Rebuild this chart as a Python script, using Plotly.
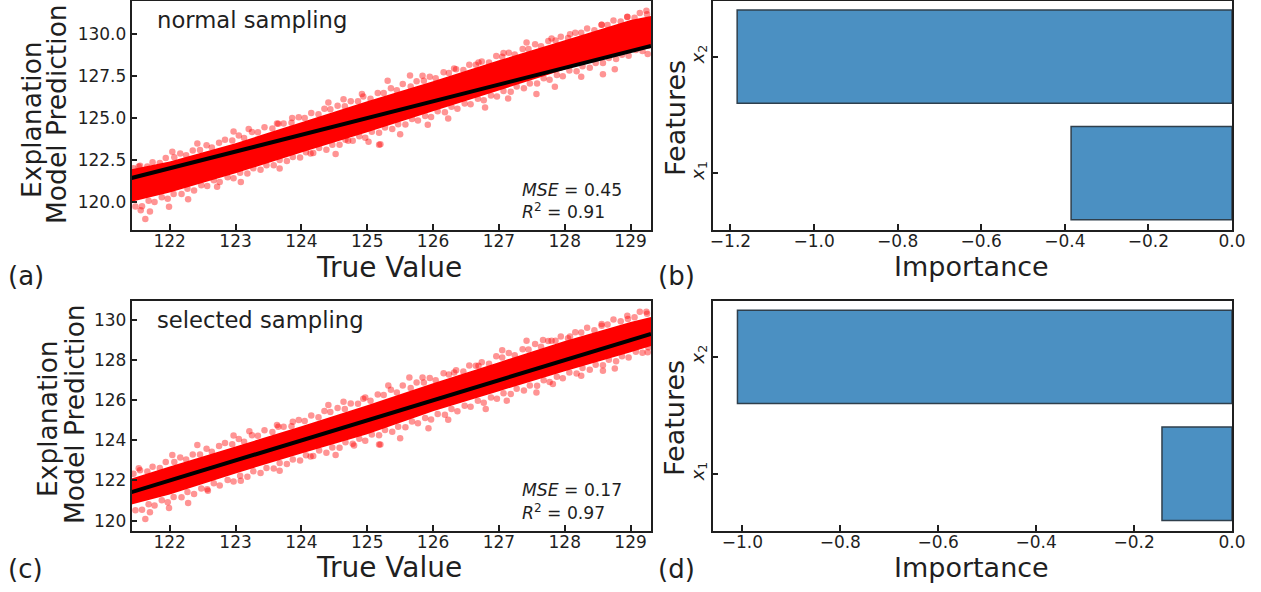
import plotly.graph_objects as go

W, H = 1261, 592
RED_FRINGE = "rgba(255,0,0,0.42)"
INK = "#1f1f1f"
BAR = "#4b90c2"
BAR_EDGE = "#2f3f4c"
FONT = "DejaVu Sans"

# Regression line endpoints (y = x) and axis limits
true_limits = [121.42, 129.31]
limits_a = [118.33, 132.0]
limits_c = [119.5, 130.96]
limits_b = [-1.243, 0.0]
limits_d = [-1.061, 0.0]

# Dense band outline
band_x = [121.42, 122, 123, 124, 125, 126, 127, 128, 129, 129.31]
a_core_top = [121.95, 122.4, 123.5, 124.75, 126.0, 127.2, 128.45, 129.65, 130.85, 131.1]
a_core_bot = [120.0, 120.55, 121.7, 122.95, 124.15, 125.4, 126.65, 127.9, 129.05, 129.35]
c_core_top = [122.1, 122.7, 123.7, 124.7, 125.75, 126.85, 127.9, 128.95, 129.9, 130.15]
c_core_bot = [120.8, 121.3, 122.35, 123.35, 124.3, 125.45, 126.45, 127.45, 128.4, 128.7]

# Isolated outliers, panel (a)
a_x = [121.53, 122.04, 122.42, 122.97, 123.2, 123.63, 123.86, 124.41, 124.64, 124.92, 125.31, 125.65,
       125.84, 126.32, 126.69, 127.07, 127.42, 127.8, 128.08, 128.56, 128.95, 129.24,
       121.56, 121.63, 121.7, 121.99, 122.28, 122.72, 123.08, 123.67, 124.14, 124.52, 124.71, 125.02,
       125.18, 125.2, 125.5, 125.92, 126.23, 126.79, 127.14, 127.57, 127.85, 128.25, 128.58, 128.76, 129.26]
a_y = [122.11, 122.99, 123.48, 124.2, 124.34, 124.67, 125.0, 125.93, 126.13, 126.43, 127.22, 127.54,
       127.52, 127.96, 128.32, 128.88, 129.51, 129.75, 130.0, 130.57, 131.05, 131.4,
       119.5, 118.97, 119.42, 119.7, 120.16, 120.9, 121.19, 121.99, 122.88, 122.85, 123.64, 123.58,
       123.4, 123.44, 124.04, 124.6, 124.97, 125.63, 126.17, 126.43, 126.87, 127.46, 127.62, 127.92, 128.82]

# Isolated outliers, panel (c)
c_x = [121.53, 122.04, 122.42, 122.97, 123.21, 123.63, 123.87, 124.41, 124.64, 124.97, 125.32, 125.64,
       125.84, 126.32, 126.69, 127.05, 127.42, 127.67, 127.8, 128.08, 128.56, 128.96, 129.24,
       121.63, 121.7, 121.99, 122.28, 122.58, 123.08, 123.67, 124.14, 124.52, 124.8, 125.18, 125.2,
       125.5, 125.93, 126.23, 126.8, 127.12, 127.57, 127.82, 128.25, 128.58, 128.76, 129.26]
c_y = [122.61, 123.27, 123.77, 124.24, 124.45, 124.77, 124.93, 125.76, 125.93, 126.14, 126.73, 127.14,
       127.14, 127.39, 127.72, 128.5, 128.97, 129.0, 128.97, 129.18, 129.72, 130.05, 130.41,
       120.08, 120.41, 120.63, 120.88, 121.49, 121.99, 122.49, 123.2, 123.27, 123.74, 123.79, 123.79,
       124.1, 124.6, 125.03, 125.56, 125.98, 126.39, 126.81, 127.22, 127.47, 127.59, 128.39]

# Speckled points along the upper edge of the band (same true values in both panels)
upper_x = [121.45, 121.55, 121.66, 121.74, 121.85, 121.94, 122.07, 122.16, 122.25, 122.35, 122.46, 122.56,
           122.64, 122.75, 122.84, 122.95, 123.05, 123.13, 123.25, 123.34, 123.44, 123.56, 123.65, 123.73,
           123.85, 123.96, 124.05, 124.15, 124.26, 124.35, 124.44, 124.55, 124.66, 124.75, 124.86, 124.94,
           125.05, 125.16, 125.25, 125.36, 125.45, 125.54, 125.66, 125.75, 125.86, 125.95, 126.04, 126.16,
           126.24, 126.35, 126.46, 126.55, 126.65, 126.74, 126.85, 126.96, 127.05, 127.15, 127.24, 127.36,
           127.45, 127.55, 127.64, 127.75, 127.86, 127.94, 128.05, 128.16, 128.25, 128.34, 128.45, 128.56,
           128.65, 128.74, 128.85, 128.95, 129.06, 129.14, 129.25]
a_upper_y = [122.0, 122.16, 122.11, 122.36, 122.32, 122.61, 122.66, 122.89, 122.78, 123.07, 123.1, 123.37,
             123.24, 123.52, 123.71, 123.66, 123.96, 123.81, 124.17, 124.16, 124.45, 124.37, 124.66, 124.68,
             124.72, 125.05, 125.01, 125.3, 125.23, 125.56, 125.53, 125.74, 125.71, 126.0, 126.01, 126.28,
             126.16, 126.49, 126.5, 126.78, 126.66, 127.03, 126.89, 127.2, 127.23, 127.46, 127.37, 127.74,
             127.69, 127.92, 127.87, 128.19, 128.18, 128.37, 128.32, 128.71, 128.66, 128.9, 128.79, 129.13,
             129.12, 129.41, 129.29, 129.6, 129.63, 129.86, 129.78, 130.09, 130.1, 130.35, 130.24, 130.57,
             130.56, 130.82, 130.77, 131.04, 130.99, 131.27, 131.2]
c_upper_y = [122.33, 122.51, 122.45, 122.68, 122.62, 122.92, 122.92, 123.15, 123.04, 123.30, 123.30, 123.58,
             123.43, 123.72, 123.87, 123.81, 124.07, 123.93, 124.26, 124.23, 124.5, 124.42, 124.68, 124.68,
             124.70, 125.02, 124.97, 125.24, 125.15, 125.46, 125.42, 125.61, 125.57, 125.84, 125.83, 126.08,
             125.97, 126.29, 126.26, 126.53, 126.39, 126.74, 126.61, 126.88, 126.89, 127.11, 127.0, 127.35,
             127.29, 127.5, 127.44, 127.73, 127.72, 127.89, 127.82, 128.2, 128.13, 128.36, 128.25, 128.55,
             128.53, 128.8, 128.67, 128.96, 128.97, 129.18, 129.09, 129.39, 129.38, 129.61, 129.49, 129.8,
             129.78, 130.03, 129.94, 130.21, 130.14, 130.41, 130.32]

# Speckled points along the lower edge of the band
lower_x = [121.48, 121.58, 121.68, 121.77, 121.88, 121.97, 122.06, 122.18, 122.27, 122.37, 122.48, 122.57,
           122.67, 122.76, 122.88, 122.97, 123.07, 123.18, 123.27, 123.38, 123.47, 123.58, 123.67, 123.78,
           123.87, 123.98, 124.07, 124.18, 124.27, 124.38, 124.47, 124.58, 124.67, 124.78, 124.88, 124.97,
           125.07, 125.18, 125.27, 125.38, 125.47, 125.58, 125.68, 125.77, 125.88, 125.97, 126.07, 126.18,
           126.28, 126.37, 126.48, 126.57, 126.68, 126.77, 126.88, 126.97, 127.07, 127.18, 127.27, 127.38,
           127.47, 127.58, 127.68, 127.77, 127.88, 127.97, 128.07, 128.18, 128.27, 128.38, 128.47, 128.58,
           128.67, 128.78, 128.87, 128.97, 129.08, 129.18, 129.27]
a_lower_y = [119.72, 119.74, 120.06, 119.99, 120.28, 120.19, 120.47, 120.47, 120.78, 120.67, 120.99, 120.95,
             121.29, 121.18, 121.47, 121.4, 121.74, 121.69, 122.0, 121.91, 122.19, 122.18, 122.49, 122.44,
             122.68, 122.65, 122.96, 122.91, 123.22, 123.11, 123.41, 123.4, 123.71, 123.64, 123.91, 123.82,
             124.18, 124.13, 124.44, 124.34, 124.63, 124.62, 124.94, 124.85, 125.13, 125.06, 125.4, 125.35,
             125.67, 125.55, 125.87, 125.83, 126.16, 126.07, 126.35, 126.28, 126.62, 126.57, 126.88, 126.78,
             127.07, 127.06, 127.38, 127.29, 127.57, 127.5, 127.84, 127.79, 128.1, 128.0, 128.29, 128.28,
             128.59, 128.52, 128.78, 128.72, 129.07, 129.01, 129.32]
c_lower_y = [120.51, 120.54, 120.82, 120.75, 121.01, 120.92, 121.17, 121.16, 121.43, 121.33, 121.6, 121.56,
             121.86, 121.75, 122.02, 121.95, 122.23, 122.19, 122.46, 122.37, 122.62, 122.6, 122.87, 122.82,
             123.04, 122.99, 123.26, 123.22, 123.49, 123.38, 123.65, 123.63, 123.9, 123.83, 124.08, 123.98,
             124.29, 124.25, 124.52, 124.43, 124.68, 124.66, 124.94, 124.85, 125.11, 125.04, 125.32, 125.28,
             125.56, 125.45, 125.72, 125.68, 125.97, 125.88, 126.14, 126.07, 126.35, 126.31, 126.58, 126.49,
             126.74, 126.72, 127.0, 126.91, 127.17, 127.1, 127.38, 127.34, 127.61, 127.52, 127.77, 127.75,
             128.02, 127.95, 128.19, 128.13, 128.42, 128.37, 128.64]

# Bar panels
feature_names = ["<i>x</i><sub>1</sub>", "<i>x</i><sub>2</sub>"]
importance_b = [-0.385, -1.184]
importance_d = [-0.143, -1.01]

# Tick labels
true_ticks = [122, 123, 124, 125, 126, 127, 128, 129]
a_ticks = [120.0, 122.5, 125.0, 127.5, 130.0]
c_ticks = [120, 122, 124, 126, 128, 130]
b_ticks = [-1.2, -1.0, -0.8, -0.6, -0.4, -0.2, 0.0]
d_ticks = [-1.0, -0.8, -0.6, -0.4, -0.2, 0.0]


def minus(v):
    return f"{v:.1f}".replace("-", "\u2212")


def dom_x(a, b):
    return [a / W, b / W]


def dom_y(top, bottom):
    return [1 - bottom / H, 1 - top / H]


fig = go.Figure()


def scatter_panel(core_top, core_bot, px, py, up_y, lo_y, xa, ya):
    fig.add_trace(go.Scatter(x=band_x + band_x[::-1], y=core_top + core_bot[::-1], mode="none", fill="toself",
                             fillcolor="#ff0000", hoverinfo="skip", showlegend=False, xaxis=xa, yaxis=ya))
    fig.add_trace(go.Scatter(x=upper_x + lower_x + px, y=up_y + lo_y + py, mode="markers", showlegend=False,
                             xaxis=xa, yaxis=ya, marker=dict(size=6.5, color=RED_FRINGE, line=dict(width=0))))
    fig.add_trace(go.Scatter(x=true_limits, y=true_limits, mode="lines", showlegend=False, xaxis=xa, yaxis=ya,
                             line=dict(color="black", width=4)))


scatter_panel(a_core_top, a_core_bot, a_x, a_y, a_upper_y, a_lower_y, "x", "y")
scatter_panel(c_core_top, c_core_bot, c_x, c_y, c_upper_y, c_lower_y, "x3", "y3")

for vals, xa, ya in [(importance_b, "x2", "y2"), (importance_d, "x4", "y4")]:
    fig.add_trace(go.Bar(x=vals, y=feature_names, orientation="h", width=0.8, showlegend=False, xaxis=xa, yaxis=ya,
                         marker=dict(color=BAR, line=dict(color=BAR_EDGE, width=1.5))))

common = dict(showgrid=False, zeroline=False, showline=True, mirror=True, linecolor=INK, linewidth=1.5,
              ticks="inside", ticklen=6, tickwidth=1.5, tickcolor=INK,
              tickfont=dict(family=FONT, size=17, color=INK))

left_dom = dom_x(131.5, 651)
right_dom = dom_x(712.5, 1232)
top_dom = dom_y(0.8, 229.8)
bot_dom = dom_y(300.8, 530.6)


def feature_axis(domain, anchor):
    return dict(common, domain=domain, anchor=anchor, type="category", range=[-0.487, 1.48],
                tickangle=-90, tickfont=dict(family=FONT, size=18, color=INK))


fig.update_layout(
    width=W, height=H, margin=dict(l=0, r=0, t=0, b=0, autoexpand=False), autosize=False,
    paper_bgcolor="white", plot_bgcolor="white", showlegend=False,
    font=dict(family=FONT, color=INK),
    xaxis=dict(common, domain=left_dom, anchor="y", range=true_limits, tickvals=true_ticks, ticklabelstandoff=-5),
    yaxis=dict(common, domain=top_dom, anchor="x", range=limits_a, tickvals=a_ticks,
               ticktext=[f"{v:.1f}" for v in a_ticks]),
    xaxis2=dict(common, domain=right_dom, anchor="y2", range=limits_b, tickvals=b_ticks,
                ticktext=[minus(v) for v in b_ticks], ticklabelstandoff=-5),
    yaxis2=feature_axis(top_dom, "x2"),
    xaxis3=dict(common, domain=left_dom, anchor="y3", range=true_limits, tickvals=true_ticks, ticklabelstandoff=-5),
    yaxis3=dict(common, domain=bot_dom, anchor="x3", range=limits_c, tickvals=c_ticks),
    xaxis4=dict(common, domain=right_dom, anchor="y4", range=limits_d, tickvals=d_ticks,
                ticktext=[minus(v) for v in d_ticks], ticklabelstandoff=-5),
    yaxis4=feature_axis(bot_dom, "x4"),
)


def note(text, x, y, size, angle=0, anchor="center"):
    fig.add_annotation(text=text, x=x / W, y=1 - y / H, xref="paper", yref="paper", showarrow=False,
                       xanchor=anchor, yanchor="middle", textangle=angle,
                       font=dict(family=FONT, size=size, color=INK))


note("Explanation", 31, 120, 26.5, -90)
note("Model Prediction", 57, 114, 26.5, -90)
note("Explanation", 47, 419, 26.5, -90)
note("Model Prediction", 74, 414, 26.5, -90)
note("True Value", 389, 268, 28)
note("True Value", 389, 567, 28)
note("Importance", 971, 266, 27)
note("Importance", 971, 567, 27)
note("Features", 675, 118, 27, -90)
note("Features", 675, 418, 27, -90)
note("normal sampling", 155, 20, 22.7, anchor="left")
note("selected sampling", 155, 320, 22.7, anchor="left")
note("<i>MSE</i> = 0.45", 520, 190, 17.2, anchor="left")
note("<i>R</i><sup>2</sup> = 0.91", 520, 211, 17.2, anchor="left")
note("<i>MSE</i> = 0.17", 520, 490, 17.2, anchor="left")
note("<i>R</i><sup>2</sup> = 0.97", 520, 512, 17.2, anchor="left")
note("(a)", 26, 276, 26)
note("(b)", 676, 276, 26)
note("(c)", 25, 569, 26)
note("(d)", 676, 569, 26)

fig.write_html("out.html", config=dict(displayModeBar=False),
               post_script="document.body.style.margin='0';document.body.style.overflow='hidden';")
